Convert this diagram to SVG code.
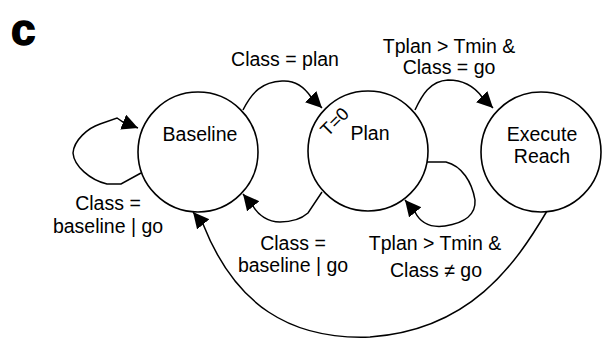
<svg xmlns="http://www.w3.org/2000/svg" width="602" height="345" viewBox="0 0 602 345">
<style>
text{font-family:"Liberation Sans",Arial,sans-serif;font-size:19.5px;fill:#000;text-anchor:middle}
.st circle{fill:#fff;stroke:#000;stroke-width:1.6}
.cn path{fill:none;stroke:#000;stroke-width:1.5;marker-end:url(#ah)}
</style>
<defs>
<marker id="ah" markerUnits="userSpaceOnUse" markerWidth="18" markerHeight="17" refX="16" refY="8" orient="auto">
<path d="M0,0 L16,8 L0,16 z" fill="#000"/>
</marker>
</defs>
<rect width="602" height="345" fill="#fff"/>
<text x="11" y="45" style="font-size:44px;font-weight:bold;text-anchor:start;stroke:#000;stroke-width:1.5">c</text>
<g class="cn" id="connectors">
<path d="M141,173 L121,184 L107,184 C90,180 74,166 73,153 C74,140 88,128 100,124 L117,118 L123,122 L138,128"/>
<path d="M243,110 C252,92 262,82 282,81 C296,80 305,88 311,97 L322,108"/>
<path d="M415,110 C422,95 430,81 448,80 C463,80 474,86 482,97 L493,108"/>
<path d="M322,192 L308,213 C300,220 290,222 280,222 C268,222 258,215 253,206 L243,194"/>
<path d="M427,162 L446,162 C462,166 472,182 475,200 C476,214 465,223 445,226 C430,228 420,222 415,212 L405,200"/>
<path d="M547,211 C515,265 470,330 370,337 C290,340 235,305 203,224 L193,212"/>
</g>
<g class="st" id="baseline">
<circle cx="198" cy="152" r="60"/>
<text x="200" y="141">Baseline</text>
</g>
<g class="st" id="plan">
<circle cx="368" cy="151" r="60"/>
<text x="370" y="140">Plan</text>
<text x="0" y="0" style="font-size:18px" transform="translate(339,126) rotate(-45)">T=0</text>
</g>
<g class="st" id="execute">
<circle cx="541" cy="152" r="60"/>
<text x="542" y="141">Execute</text>
<text x="542" y="163">Reach</text>
</g>
<g id="labels">
<text x="285" y="66">Class = plan</text>
<text x="449" y="53">Tplan &gt; Tmin &amp;</text>
<text x="449" y="74">Class = go</text>
<text x="108" y="210">Class =</text>
<text x="108" y="233">baseline | go</text>
<text x="293" y="250">Class =</text>
<text x="293" y="272">baseline | go</text>
<text x="435" y="250">Tplan &gt; Tmin &amp;</text>
<text x="436" y="277">Class ≠ go</text>
</g>
</svg>
